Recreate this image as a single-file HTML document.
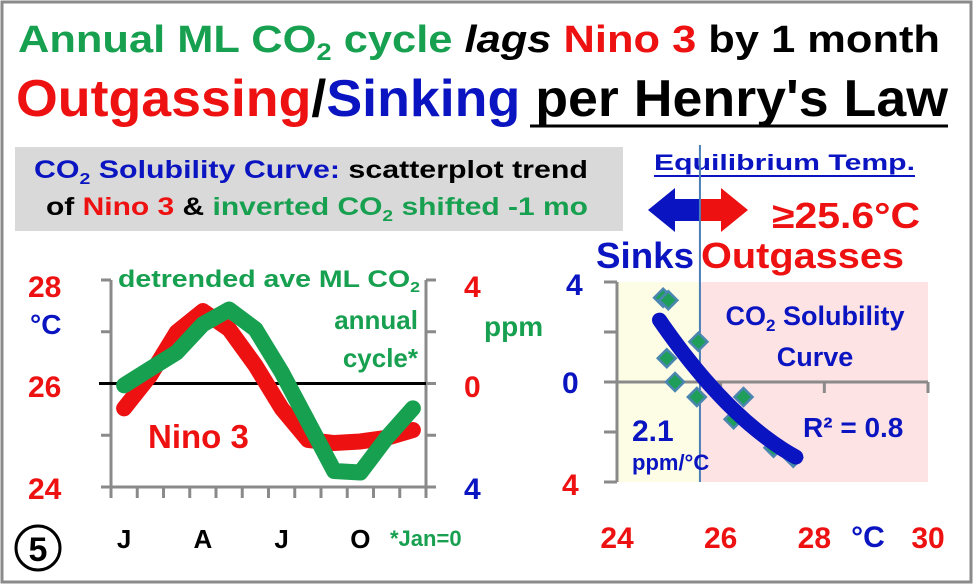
<!DOCTYPE html>
<html><head><meta charset="utf-8">
<style>
html,body{margin:0;padding:0;background:#fff;}
svg{display:block;font-family:"Liberation Sans",sans-serif;font-weight:bold;}
</style></head>
<body>
<svg id="chart" width="976" height="586" viewBox="0 0 976 586">
<rect x="2" y="2" width="969" height="580" fill="#fff" stroke="#8a8a8a" stroke-width="3"/>

<text x="18" y="52" font-size="38" textLength="922" lengthAdjust="spacingAndGlyphs"><tspan fill="#17a050">Annual ML CO<tspan font-size="24" dy="8">2</tspan><tspan dy="-8"> cycle </tspan></tspan><tspan fill="#000" font-style="italic">lags </tspan><tspan fill="#ee1111">Nino 3 </tspan><tspan fill="#000">by 1 month</tspan></text>
<text x="16" y="116" font-size="52" textLength="932" lengthAdjust="spacingAndGlyphs"><tspan fill="#ee1111">Outgassing</tspan><tspan fill="#000">/</tspan><tspan fill="#0a14c0">Sinking</tspan><tspan fill="#000"> per Henry's Law</tspan></text>
<line x1="530" y1="126" x2="948" y2="126" stroke="#000" stroke-width="3"/>

<rect x="15" y="147" width="608" height="84" fill="#d9d9d9"/>
<text x="34" y="178" font-size="25" textLength="554" lengthAdjust="spacingAndGlyphs"><tspan fill="#0a14c0">CO<tspan font-size="16" dy="6">2</tspan><tspan dy="-6"> Solubility Curve: </tspan></tspan><tspan fill="#000">scatterplot trend</tspan></text>
<text x="46" y="215" font-size="25" textLength="542" lengthAdjust="spacingAndGlyphs"><tspan fill="#000">of </tspan><tspan fill="#ee1111">Nino 3 </tspan><tspan fill="#000">&amp; </tspan><tspan fill="#17a050">inverted CO<tspan font-size="16" dy="6">2</tspan><tspan dy="-6"> shifted -1 mo</tspan></tspan></text>

<text x="654" y="170" font-size="22" fill="#0a14c0" textLength="261" lengthAdjust="spacingAndGlyphs">Equilibrium  Temp.</text>
<line x1="654" y1="176" x2="915" y2="176" stroke="#0a14c0" stroke-width="2"/>
<polygon points="648,210 675,188 675,199 699,199 699,221 675,221 675,232" fill="#0a14c0"/>
<polygon points="748,210 721,188 721,199 699,199 699,221 721,221 721,232" fill="#ee1111"/>
<text x="772" y="228" font-size="36" fill="#ee1111" textLength="148" lengthAdjust="spacingAndGlyphs">≥25.6°C</text>
<text x="596" y="268" font-size="36" fill="#0a14c0" textLength="98" lengthAdjust="spacingAndGlyphs">Sinks</text>
<text x="701" y="268" font-size="36" fill="#ee1111" textLength="203" lengthAdjust="spacingAndGlyphs">Outgasses</text>

<g id="left"></g>
<g id="right"></g>

<text x="28" y="297" font-size="30" fill="#ee1111">28</text>
<text x="30" y="334" font-size="28" fill="#0a14c0">°C</text>
<text x="28" y="397" font-size="30" fill="#ee1111">26</text>
<text x="28" y="499" font-size="30" fill="#ee1111">24</text>
<text x="464" y="297" font-size="30" fill="#ee1111">4</text>
<text x="464" y="397" font-size="30" fill="#ee1111">0</text>
<text x="464" y="499" font-size="30" fill="#0a14c0">4</text>
<text x="484" y="336" font-size="28" fill="#17a050">ppm</text>
<text x="118" y="287" font-size="24" fill="#17a050" textLength="302" lengthAdjust="spacingAndGlyphs">detrended ave ML CO<tspan font-size="15" dy="5">2</tspan></text>
<text x="418" y="329" font-size="26" fill="#17a050" text-anchor="end">annual</text>
<text x="418" y="367" font-size="26" fill="#17a050" text-anchor="end">cycle*</text>
<text x="148" y="448" font-size="33" fill="#ee1111">Nino 3</text>
<text x="390" y="546" font-size="22" fill="#17a050">*Jan=0</text>
<circle cx="38" cy="548" r="22" fill="none" stroke="#000" stroke-width="3"/>
<text x="38" y="561" font-size="34" text-anchor="middle">5</text>

<text x="566" y="295" font-size="30" fill="#0a14c0">4</text>
<text x="562" y="393" font-size="30" fill="#0a14c0">0</text>
<text x="562" y="495" font-size="30" fill="#ee1111">4</text>
<text x="868" y="547" font-size="30" fill="#0a14c0" text-anchor="middle">°C</text>
<text x="815" y="325" font-size="27" fill="#0a14c0" text-anchor="middle">CO<tspan font-size="17" dy="6">2</tspan><tspan dy="-6"> Solubility</tspan></text>
<text x="815" y="366" font-size="27" fill="#0a14c0" text-anchor="middle">Curve</text>
<text x="803" y="437" font-size="28" fill="#0a14c0">R² = 0.8</text>
<text x="632" y="441" font-size="30" fill="#0a14c0">2.1</text>
<text x="632" y="470" font-size="22" fill="#0a14c0">ppm/°C</text>
</svg>
<script>
const months = ['J','F','M','A','M','J','J','A','S','O','N','D'];
const monthLabels = ['J','A','J','O'];
const ninoTemps = [25.52,26.16,26.99,27.40,27.05,26.35,25.52,24.91,24.85,24.88,24.95,25.10];
const co2Ppm = [-0.07,0.57,1.2,2.29,2.86,2.1,0.44,-1.47,-3.38,-3.44,-2.1,-0.96];
const leftTempTicks = [24,25,26,27,28];
const scatterTemps = [24.89,24.99,25.57,24.96,25.12,25.54,26.44,26.25,27.02,27.40];
const scatterPpm = [3.37,3.27,1.61,0.95,0.0,-0.6,-0.6,-1.49,-2.63,-3.03];
const scatterXTicks = [24,26,28,30];
const scatterYTicks = [4,2,0,-2,-4];
const equilibriumTemp = 25.6;

const NS='http://www.w3.org/2000/svg';
function mk(tag,attrs,parent){const e=document.createElementNS(NS,tag);for(const k in attrs)e.setAttribute(k,attrs[k]);parent.appendChild(e);return e;}

const L=document.getElementById('left');
const lx0=111,lx1=426,ly0=280,ly1=487;
const step=(lx1-lx0)/months.length;
const mx=i=>lx0+step*(i+0.5);
const ty=t=>ly1-(t-24)/4*(ly1-ly0);
const py=p=>ly1-(p+4)/8*(ly1-ly0);
let e=mk('line',{x1:lx0,y1:ly0,x2:lx0,y2:ly1,stroke:'#8a8a8a','stroke-width':3},L);


e=mk('line',{x1:lx1,y1:ly0,x2:lx1,y2:ly1,stroke:'#8a8a8a','stroke-width':3},L);


leftTempTicks.forEach(t=>{
  e=mk('line',{x1:lx0-10,y1:ty(t),x2:lx0,y2:ty(t),stroke:'#8a8a8a','stroke-width':3},L);
  
  
  e=mk('line',{x1:lx1,y1:ty(t),x2:lx1+10,y2:ty(t),stroke:'#8a8a8a','stroke-width':3},L);
  
  
});
e=mk('line',{x1:lx0,y1:ly1,x2:lx1,y2:ly1,stroke:'#8a8a8a','stroke-width':3},L);


for(let i=0;i<=months.length;i++){
  e=mk('line',{x1:lx0+step*i,y1:ly1,x2:lx0+step*i,y2:ly1+11,stroke:'#8a8a8a','stroke-width':3},L);
  
  
}
e=mk('line',{x1:lx0-12,y1:ty(26),x2:lx1,y2:ty(26),stroke:'#000','stroke-width':3},L);


e=mk('polyline',{points:ninoTemps.map((t,i)=>mx(i)+','+ty(t)).join(' '),fill:'none',stroke:'#ee1111','stroke-width':16,'stroke-linejoin':'round','stroke-linecap':'round'},L);


e=mk('polyline',{points:co2Ppm.map((p,i)=>mx(i)+','+py(p)).join(' '),fill:'none',stroke:'#17a050','stroke-width':16,'stroke-linejoin':'round','stroke-linecap':'round'},L);


monthLabels.forEach((m,k)=>{
  e=mk('text',{x:mx(k*3),y:548,'font-size':26,'text-anchor':'middle',fill:'#000'},L);
  e.textContent=m;
  
  
});

const R=document.getElementById('right');
const rx0=617,rx1=928,ry0=282,ry1=482;
const sx=t=>rx0+(t-24)/6*(rx1-rx0);
const sy=p=>ry1-(p+4)/8*(ry1-ry0);
e=mk('rect',{x:rx0,y:ry0,width:sx(equilibriumTemp)-rx0,height:ry1-ry0,fill:'#fdfde6'},R);


e=mk('rect',{x:sx(equilibriumTemp),y:ry0,width:rx1-sx(equilibriumTemp),height:ry1-ry0,fill:'#fde3e3'},R);


e=mk('line',{x1:rx0,y1:ry0,x2:rx0,y2:ry1,stroke:'#8a8a8a','stroke-width':3},R);


scatterYTicks.forEach(p=>{
  e=mk('line',{x1:rx0-13,y1:sy(p),x2:rx0,y2:sy(p),stroke:'#8a8a8a','stroke-width':3},R);
  
  
});
e=mk('line',{x1:rx0-13,y1:sy(0),x2:rx1,y2:sy(0),stroke:'#8a8a8a','stroke-width':3},R);


scatterXTicks.forEach(t=>{
  e=mk('line',{x1:sx(t),y1:sy(0),x2:sx(t),y2:sy(0)+11,stroke:'#8a8a8a','stroke-width':3},R);
  
  
  e=mk('text',{x:t===28?sx(t)-10:sx(t),y:548,'font-size':30,'text-anchor':'middle',fill:'#ee1111'},R);
  e.textContent=String(t);
  
  
});
e=mk('line',{x1:sx(equilibriumTemp),y1:145,x2:sx(equilibriumTemp),y2:ry1,stroke:'#4a7fb8','stroke-width':2},R);


scatterTemps.forEach((t,i)=>{
  const x=sx(t),y=sy(scatterPpm[i]);
  e=mk('polygon',{points:`${x},${y-9} ${x+9},${y} ${x},${y+9} ${x-9},${y}`,fill:'#1f9e5a',stroke:'#4a86b0','stroke-width':2.5},R);
  
  
});
(function(){
  let S=[0,0,0,0,0],T=[0,0,0];
  scatterTemps.forEach((x,i)=>{const y=scatterPpm[i];let p=1;for(let k=0;k<5;k++){S[k]+=p;if(k<3)T[k]+=p*y;p*=x;}});
  const A=[[S[0],S[1],S[2],T[0]],[S[1],S[2],S[3],T[1]],[S[2],S[3],S[4],T[2]]];
  for(let i=0;i<3;i++){for(let j=i+1;j<3;j++){const f=A[j][i]/A[i][i];for(let k=i;k<4;k++)A[j][k]-=f*A[i][k];}}
  const c=[0,0,0];for(let i=2;i>=0;i--){let s=A[i][3];for(let k=i+1;k<3;k++)s-=A[i][k]*c[k];c[i]=s/A[i][i];}
  const tmin=Math.min(...scatterTemps)-0.07,tmax=Math.max(...scatterTemps)+0.05;
  const pts=[];for(let k=0;k<=30;k++){const t=tmin+(tmax-tmin)*k/30;pts.push(sx(t)+','+sy(c[0]+c[1]*t+c[2]*t*t));}
  e=mk('polyline',{points:pts.join(' '),fill:'none',stroke:'#0a14c0','stroke-width':15,'stroke-linecap':'round'},R);
  
  
})();
</script>
</body></html>
